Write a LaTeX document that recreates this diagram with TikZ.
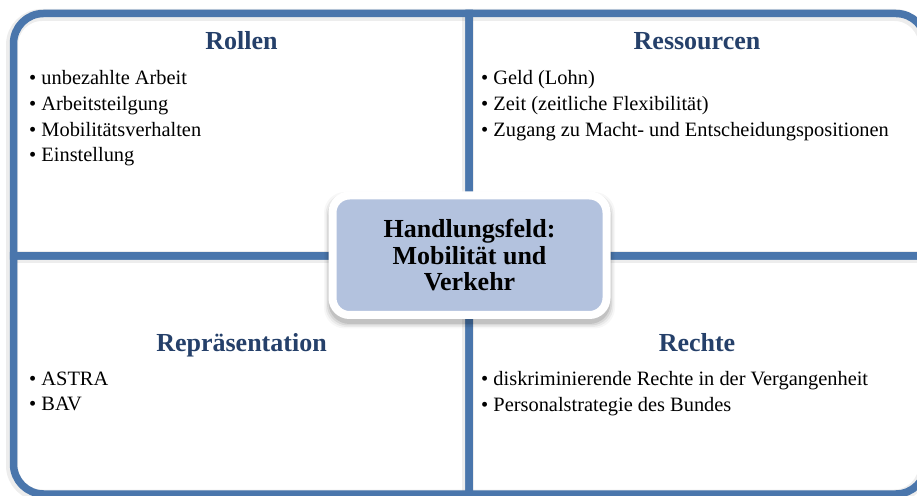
\documentclass[tikz,border=0pt]{standalone}
\usepackage{fontspec}
\setmainfont{Liberation Serif}
\definecolor{frameblue}{HTML}{4A76AC}
\definecolor{headblue}{HTML}{25406A}
\definecolor{hubfill}{HTML}{B3C2DE}
\tikzset{
  quad/.style={draw=frameblue, line width=7.5pt, line join=miter},
  quadshade/.style={draw=black, opacity=0.07, line width=12pt},
  heading/.style={font=\fontsize{26}{30}\selectfont\bfseries, text=headblue, anchor=base, inner sep=0pt},
  item/.style={font=\fontsize{20.4}{24}\selectfont, anchor=base west, inner sep=0pt},
  hub/.style={draw=white, line width=8pt, fill=hubfill, rounded corners=17pt,
    minimum width=274pt, minimum height=119.5pt, align=center, inner sep=0pt,
    font=\fontsize{26}{26.7}\selectfont\bfseries}
}
% frame geometry (outer edges, centre cross, corner radius)
\def\xl{13.5}
\def\xr{926}
\def\yt{481.5}
\def\yb{1}
\def\xm{469}
\def\ym{239}
\def\rad{30}
\begin{document}
\begin{tikzpicture}[x=1pt,y=1pt]
  \useasboundingbox (0,0) rectangle (917,495);
  \fill[white] (0,0) rectangle (917,495);

  % soft shadow of the frame
  \begin{scope}[shift={(-1.5,-1.5)}]
    \draw[quadshade, rounded corners=\rad pt] (\xl,\yb) rectangle (\xr,\yt);
    \draw[quadshade] (\xl,\ym) -- (\xr,\ym);
    \draw[quadshade] (\xm,\yb) -- (\xm,\yt);
  \end{scope}

  % the four quadrants, each with one rounded outer corner
  \draw[quad] (\xm,\ym) -- (\xl,\ym) -- (\xl,\yt-\rad)
    arc[start angle=180, end angle=90, radius=\rad] -- (\xm,\yt) -- cycle;
  \draw[quad] (\xm,\ym) -- (\xm,\yt) -- (\xr-\rad,\yt)
    arc[start angle=90, end angle=0, radius=\rad] -- (\xr,\ym) -- cycle;
  \draw[quad] (\xm,\ym) -- (\xr,\ym) -- (\xr,\yb+\rad)
    arc[start angle=0, end angle=-90, radius=\rad] -- (\xm,\yb) -- cycle;
  \draw[quad] (\xm,\ym) -- (\xm,\yb) -- (\xl+\rad,\yb)
    arc[start angle=270, end angle=180, radius=\rad] -- (\xl,\ym) -- cycle;

  % headings
  \node[heading] (hRollen) at (241.5,445) {Rollen};
  \node[heading] (hRess) at (697,445) {Ressourcen};
  \node[heading] (hRepr) at (241.5,143) {Repräsentation};
  \node[heading] (hRechte) at (697,143) {Rechte};

  % Rollen
  \node[item] (r1) at (29,410) {\textbullet\ unbezahlte Arbeit};
  \node[item] (r2) at (29,384.4) {\textbullet\ Arbeitsteilgung};
  \node[item] (r3) at (29,358.8) {\textbullet\ Mobilitätsverhalten};
  \node[item] (r4) at (29,333.2) {\textbullet\ Einstellung};

  % Ressourcen
  \node[item] (s1) at (481,410) {\textbullet\ Geld (Lohn)};
  \node[item] (s2) at (481,384.4) {\textbullet\ Zeit (zeitliche Flexibilität)};
  \node[item] (s3) at (481,358.8) {\textbullet\ Zugang zu Macht- und Entscheidungspositionen};

  % Repräsentation
  \node[item] (p1) at (29,109.8) {\textbullet\ ASTRA};
  \node[item] (p2) at (29,84.2) {\textbullet\ BAV};

  % Rechte
  \node[item] (k1) at (481,109.3) {\textbullet\ diskriminierende Rechte in der Vergangenheit};
  \node[item] (k2) at (481,83.7) {\textbullet\ Personalstrategie des Bundes};

  % shadow under the central box
  \foreach \e/\o in {0/0.10, 1.5/0.07, 3/0.05, 4.5/0.03}{
    \fill[black, opacity=\o, rounded corners=21pt]
      (469.5-141-\e, 239.75-63.75-5-\e) rectangle (469.5+141+\e, 239.75+63.75-5+\e);
  }
  % central box
  \node[hub] (hub) at (469.5,239.75) {Handlungsfeld:\\Mobilität und\\Verkehr};
\end{tikzpicture}
\end{document}
